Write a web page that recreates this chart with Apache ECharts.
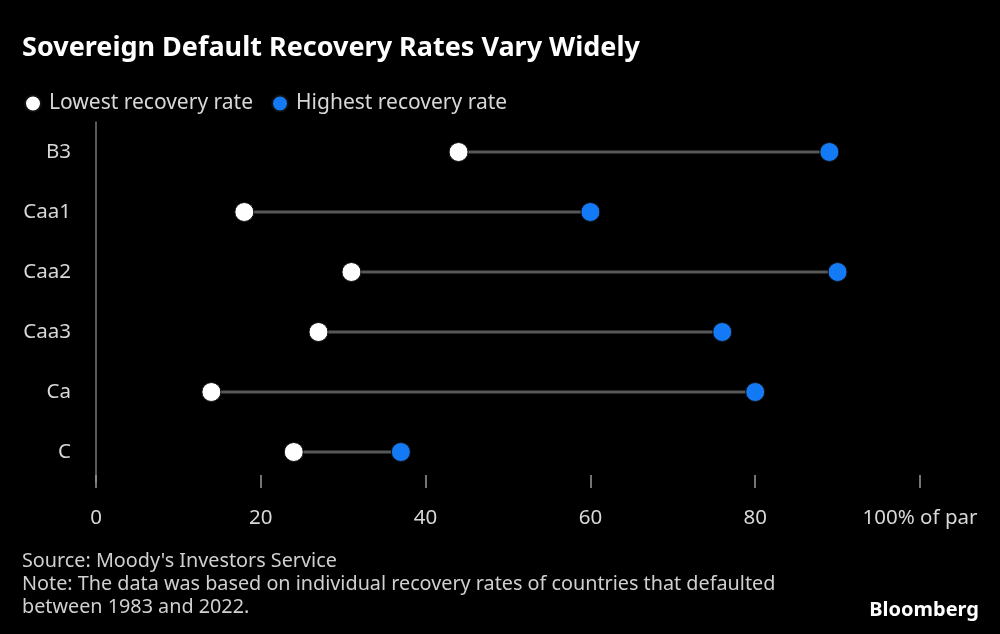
<!DOCTYPE html>
<html>
<head>
<meta charset="utf-8">
<script src="https://cdn.jsdelivr.net/npm/echarts@6/dist/echarts.min.js"></script>
<style>
html,body{margin:0;padding:0;background:#000;}
#c{width:1000px;height:634px;}
</style>
</head>
<body>
<div id="c"></div>
<script>
const categories = ['B3', 'Caa1', 'Caa2', 'Caa3', 'Ca', 'C'];
const lowest = [44, 18, 31, 27, 14, 24];
const highest = [89, 60, 90, 76, 80, 37];
const xTicks = [0, 20, 40, 60, 80, 100];

const FONT = '"Noto Sans", sans-serif';
const chart = echarts.init(document.getElementById('c'));

chart.setOption({
  backgroundColor: '#000',
  animation: false,
  title: [
    { text: 'Sovereign Default Recovery Rates Vary Widely', left: 17, top: 30,
      textStyle: { color: '#fff', fontFamily: FONT, fontSize: 27, fontWeight: 'bold' } },
    { text: "Source: Moody's Investors Service\nNote: The data was based on individual recovery rates of countries that defaulted\nbetween 1983 and 2022.",
      left: 17, top: 545,
      textStyle: { color: '#d0d0d0', fontFamily: FONT, fontSize: 19.8, fontWeight: 'normal', lineHeight: 23 } },
    { text: 'Bloomberg', right: 16, top: 595,
      textStyle: { color: '#fff', fontFamily: FONT, fontSize: 20, fontWeight: 'bold' } }
  ],
  legend: {
    left: 24, top: 93, padding: 0, itemWidth: 16, itemHeight: 16, itemGap: 18,
    icon: 'circle',
    data: ['Lowest recovery rate', 'Highest recovery rate'],
    textStyle: { color: '#d8d8d8', fontFamily: FONT, fontSize: 21, padding: [0, 0, 0, 3] }
  },
  grid: { left: 96, right: 80, top: 122, bottom: 152, containLabel: false },
  xAxis: {
    type: 'value', min: 0, max: 100, interval: 20, offset: -7,
    axisLine: { show: false },
    axisTick: { show: true, length: 13, lineStyle: { color: '#9a9a9a', width: 1.5 } },
    splitLine: { show: false },
    axisLabel: {
      color: '#d8d8d8', fontFamily: FONT, fontSize: 20.5, margin: 33,
      formatter: v => v === 100 ? '100% of par' : String(v),
      customValues: xTicks
    }
  },
  yAxis: {
    type: 'category', data: categories, inverse: true,
    axisLine: { show: true, lineStyle: { color: '#777', width: 1.5 } },
    axisTick: { show: false },
    axisLabel: { color: '#d8d8d8', fontFamily: FONT, fontSize: 20.5, margin: 25 }
  },
  series: [
    {
      type: 'custom', name: 'range', silent: true, z: 1,
      data: categories.map((c, i) => [lowest[i], highest[i], i]),
      encode: { x: [0, 1], y: 2 },
      renderItem: function (params, api) {
        const a = api.coord([api.value(0), api.value(2)]);
        const b = api.coord([api.value(1), api.value(2)]);
        return { type: 'line', shape: { x1: a[0], y1: a[1], x2: b[0], y2: b[1] },
          style: { stroke: '#575757', lineWidth: 3 } };
      }
    },
    {
      type: 'scatter', name: 'Lowest recovery rate', z: 3, symbolSize: 19,
      itemStyle: { color: '#ffffff', opacity: 1, borderColor: '#111', borderWidth: 1 },
      data: categories.map((c, i) => [lowest[i], c])
    },
    {
      type: 'scatter', name: 'Highest recovery rate', z: 3, symbolSize: 19,
      itemStyle: { color: '#1479f5', opacity: 1, borderColor: '#111', borderWidth: 1 },
      data: categories.map((c, i) => [highest[i], c])
    }
  ]
});
</script>
</body>
</html>
